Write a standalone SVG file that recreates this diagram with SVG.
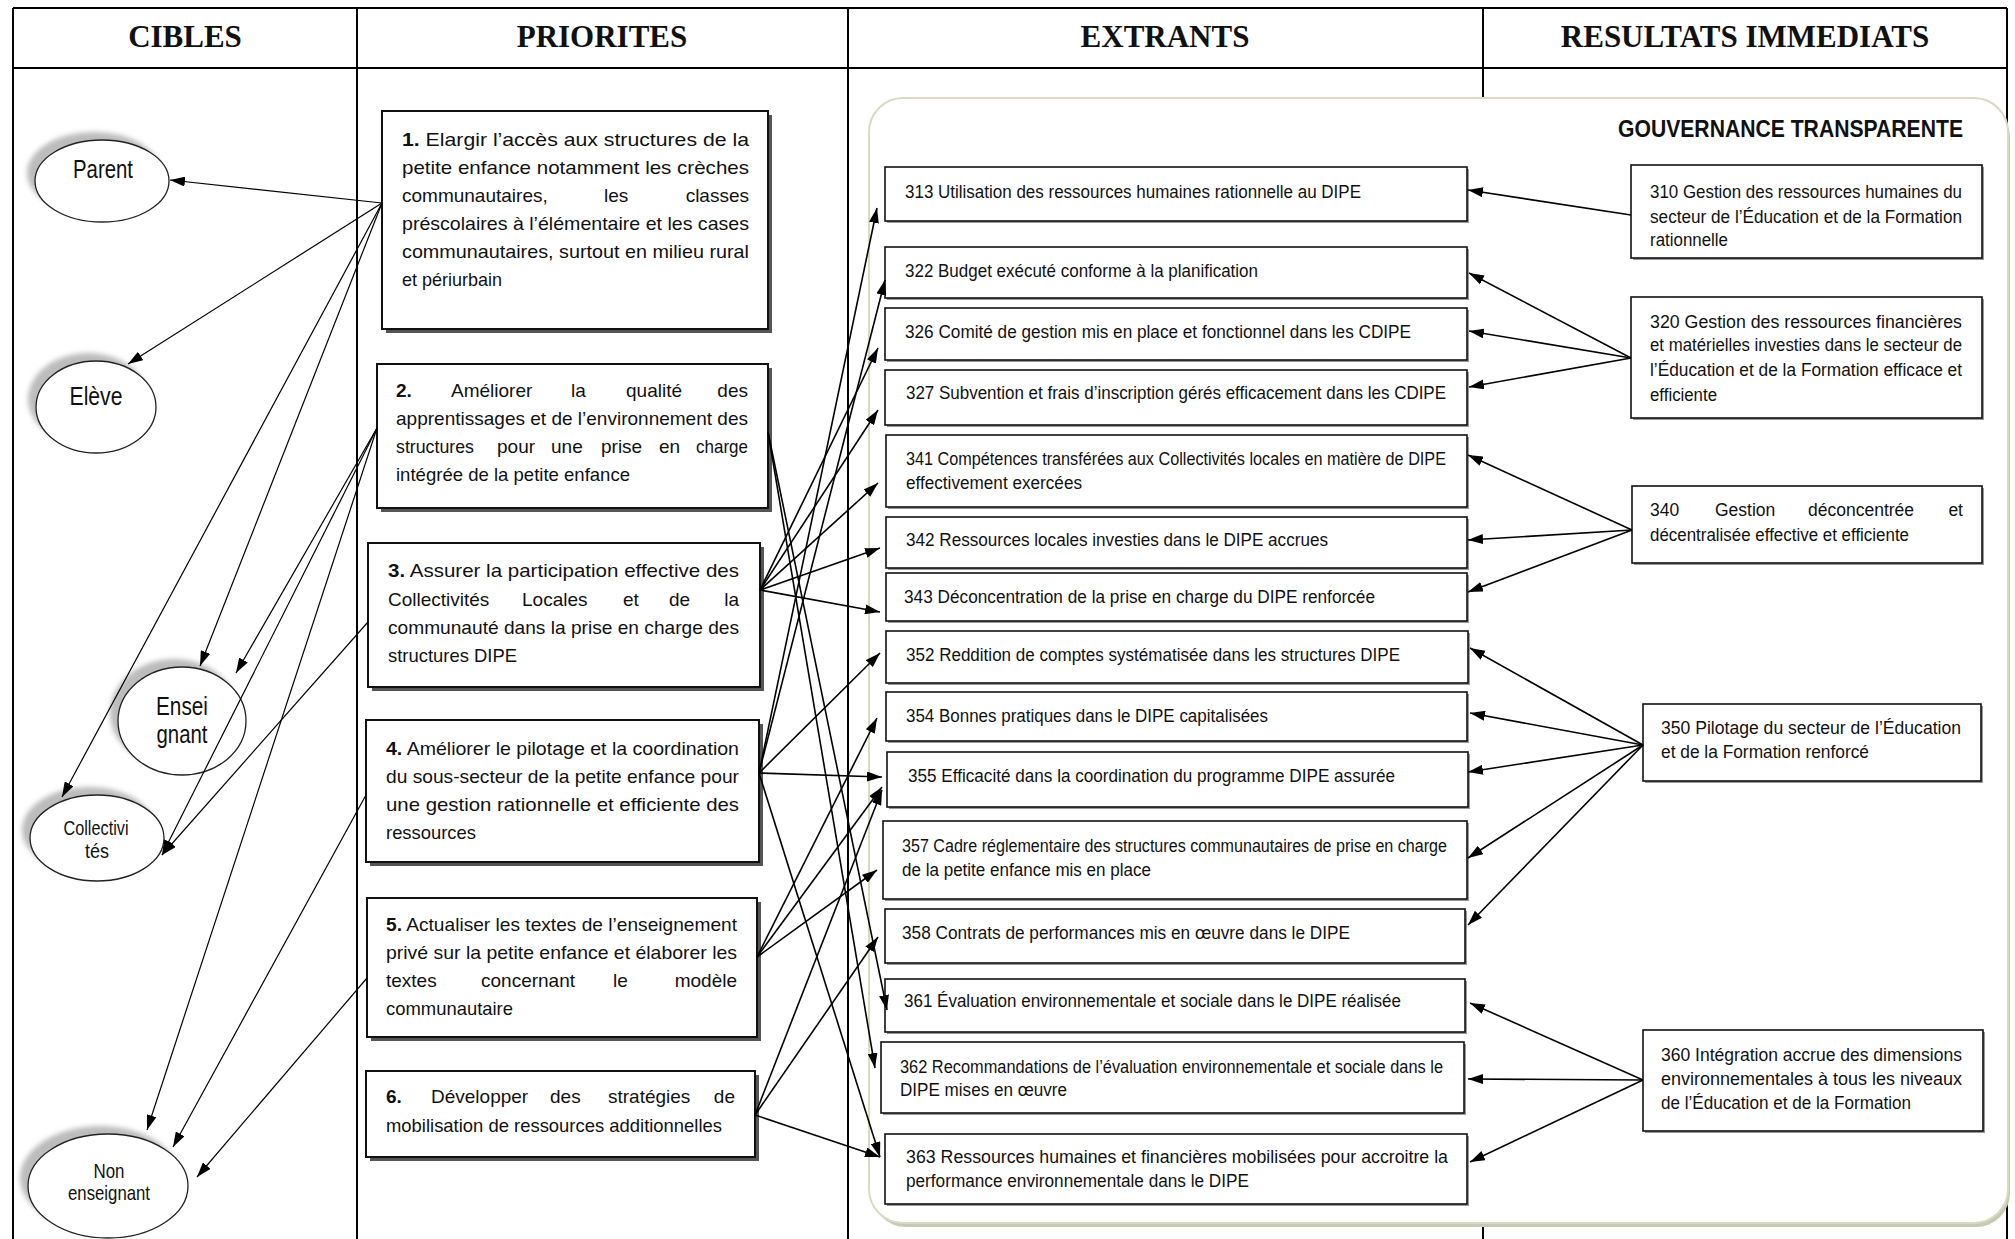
<svg xmlns="http://www.w3.org/2000/svg" width="2015" height="1239" viewBox="0 0 2015 1239">
<defs>
<style>
.hd{font-family:'Liberation Serif','Times New Roman',serif;font-weight:bold;font-size:31px;text-anchor:middle;fill:#111}
.p{font-family:'Liberation Sans',Arial,sans-serif;font-size:19px;fill:#111}
.e{font-family:'Liberation Sans',Arial,sans-serif;font-size:17.5px;fill:#111}
.lb{font-family:'Liberation Sans',Arial,sans-serif;font-size:25px;fill:#111;text-anchor:middle}
.ls{font-family:'Liberation Sans',Arial,sans-serif;font-size:21px;fill:#111;text-anchor:middle}
.end{text-anchor:end}
.tl{fill:none;stroke:#000;stroke-width:2}
.pb{fill:#fff;stroke:#111;stroke-width:2}
.psh{fill:#555}
.eb{fill:#fff;stroke:#111;stroke-width:1.6}
.esh{fill:#999}
.el{fill:#fff;stroke:#222;stroke-width:1.3}
.esd{fill:#bcbcbc;filter:url(#blur)}
.cl{stroke:#000;stroke-width:1.2;fill:none;marker-end:url(#ah)}
.cr{stroke:#000;stroke-width:1.6;fill:none;marker-end:url(#ah)}
</style>
<filter id="blur" x="-20%" y="-20%" width="140%" height="140%"><feGaussianBlur stdDeviation="2.5"/></filter>
<marker id="ah" viewBox="0 0 15 10" refX="15" refY="5" markerWidth="15" markerHeight="10" markerUnits="userSpaceOnUse" orient="auto"><path d="M0,0L15,5L0,10z" fill="#000"/></marker>
</defs>
<rect width="2015" height="1239" fill="#fff"/>
<g id="table">
<line class="tl" x1="13" y1="8" x2="2007" y2="8"/>
<line class="tl" x1="13" y1="68" x2="2007" y2="68" stroke-width="2.5"/>
<line class="tl" x1="13" y1="8" x2="13" y2="1239"/>
<line class="tl" x1="2007" y1="8" x2="2007" y2="1239"/>
<line class="tl" x1="357" y1="8" x2="357" y2="1239"/>
<line class="tl" x1="848" y1="8" x2="848" y2="1239"/>
<line class="tl" x1="1483" y1="8" x2="1483" y2="1239"/>
<text class="hd" x="185" y="47">CIBLES</text>
<text class="hd" x="602" y="47">PRIORITES</text>
<text class="hd" x="1165" y="47">EXTRANTS</text>
<text class="hd" x="1745" y="47">RESULTATS IMMEDIATS</text>
</g>
<g id="gouvernance">
<rect x="872" y="103" width="1138" height="1124" rx="34" fill="#c6cab2"/>
<rect x="869" y="98" width="1139" height="1125" rx="34" fill="#fff" stroke="#dcd9c3" stroke-width="2"/>
<text x="1618" y="137" font-family="'Liberation Sans',Arial,sans-serif" font-weight="bold" font-size="24" textLength="345" lengthAdjust="spacingAndGlyphs" fill="#111">GOUVERNANCE TRANSPARENTE</text>
</g>
<g id="cibles">
<g id="parent"><ellipse class="esd" cx="94" cy="173" rx="67" ry="41"/><ellipse class="el" cx="102" cy="181" rx="67" ry="41"/><text class="lb" x="103" y="178" textLength="60" lengthAdjust="spacingAndGlyphs">Parent</text></g>
<g id="eleve"><ellipse class="esd" cx="88" cy="399" rx="60" ry="46"/><ellipse class="el" cx="96" cy="407" rx="60" ry="46"/><text class="lb" x="96" y="405" textLength="53" lengthAdjust="spacingAndGlyphs">Elève</text></g>
<g id="enseignant"><ellipse class="esd" cx="174" cy="713" rx="64" ry="54"/><ellipse class="el" cx="182" cy="721" rx="64" ry="54"/><text class="lb" x="182" y="715" textLength="52" lengthAdjust="spacingAndGlyphs">Ensei</text><text class="lb" x="182" y="743" textLength="51" lengthAdjust="spacingAndGlyphs">gnant</text></g>
<g id="collectivites"><ellipse class="esd" cx="89" cy="830" rx="67" ry="43"/><ellipse class="el" cx="97" cy="838" rx="67" ry="43"/><text class="ls" x="96" y="835" textLength="65" lengthAdjust="spacingAndGlyphs">Collectivi</text><text class="ls" x="97" y="858" textLength="24" lengthAdjust="spacingAndGlyphs">tés</text></g>
<g id="nonenseignant"><ellipse class="esd" cx="100" cy="1178" rx="80" ry="52"/><ellipse class="el" cx="108" cy="1186" rx="80" ry="52"/><text class="ls" x="109" y="1178" textLength="31" lengthAdjust="spacingAndGlyphs">Non</text><text class="ls" x="109" y="1200" textLength="82" lengthAdjust="spacingAndGlyphs">enseignant</text></g>
</g>
<g id="priorites">
<g id="p1"><rect class="psh" x="386" y="115" width="386" height="218"/><rect class="pb" x="382" y="111" width="386" height="218"/>
<text class="p" x="402" y="146" textLength="347" lengthAdjust="spacingAndGlyphs"><tspan font-weight="bold">1.</tspan>  Elargir l’accès aux structures de la</text>
<text class="p" x="402" y="174" textLength="347" lengthAdjust="spacingAndGlyphs">petite enfance notamment les crèches</text>
<text class="p" x="402" y="202">communautaires,</text><text class="p" x="604" y="202">les</text><text class="p end" x="749" y="202">classes</text>
<text class="p" x="402" y="230" textLength="347" lengthAdjust="spacingAndGlyphs">préscolaires à l’élémentaire et les cases</text>
<text class="p" x="402" y="258" textLength="347" lengthAdjust="spacingAndGlyphs">communautaires, surtout en milieu rural</text>
<text class="p" x="402" y="286" textLength="100" lengthAdjust="spacingAndGlyphs">et périurbain</text></g>
<g id="p2"><rect class="psh" x="381" y="368" width="391" height="144"/><rect class="pb" x="377" y="364" width="391" height="144"/>
<text class="p" x="396" y="397" font-weight="bold">2.</text><text class="p" x="451" y="397">Améliorer</text><text class="p" x="571" y="397">la</text><text class="p" x="626" y="397">qualité</text><text class="p end" x="748" y="397">des</text>
<text class="p" x="396" y="425" textLength="352" lengthAdjust="spacingAndGlyphs">apprentissages et de l’environnement des</text>
<text class="p" x="396" y="453" textLength="78" lengthAdjust="spacingAndGlyphs">structures</text><text class="p" x="497" y="453">pour</text><text class="p" x="551" y="453">une</text><text class="p" x="601" y="453">prise</text><text class="p" x="659" y="453">en</text><text class="p end" x="748" y="453" textLength="52" lengthAdjust="spacingAndGlyphs">charge</text>
<text class="p" x="396" y="481" textLength="234" lengthAdjust="spacingAndGlyphs">intégrée de la petite enfance</text></g>
<g id="p3"><rect class="psh" x="372" y="547" width="392" height="144"/><rect class="pb" x="368" y="543" width="392" height="144"/>
<text class="p" x="388" y="577" textLength="351" lengthAdjust="spacingAndGlyphs"><tspan font-weight="bold">3.</tspan> Assurer la participation effective des</text>
<text class="p" x="388" y="606">Collectivités</text><text class="p" x="522" y="606">Locales</text><text class="p" x="623" y="606">et</text><text class="p" x="669" y="606">de</text><text class="p end" x="739" y="606">la</text>
<text class="p" x="388" y="634" textLength="351" lengthAdjust="spacingAndGlyphs">communauté dans la prise en charge des</text>
<text class="p" x="388" y="662" textLength="129" lengthAdjust="spacingAndGlyphs">structures DIPE</text></g>
<g id="p4"><rect class="psh" x="370" y="724" width="393" height="142"/><rect class="pb" x="366" y="720" width="393" height="142"/>
<text class="p" x="386" y="755" textLength="353" lengthAdjust="spacingAndGlyphs"><tspan font-weight="bold">4.</tspan> Améliorer le pilotage et la coordination</text>
<text class="p" x="386" y="783" textLength="353" lengthAdjust="spacingAndGlyphs">du sous-secteur de la petite enfance pour</text>
<text class="p" x="386" y="811" textLength="353" lengthAdjust="spacingAndGlyphs">une gestion rationnelle et efficiente des</text>
<text class="p" x="386" y="839" textLength="90" lengthAdjust="spacingAndGlyphs">ressources</text></g>
<g id="p5"><rect class="psh" x="371" y="902" width="390" height="139"/><rect class="pb" x="367" y="898" width="390" height="139"/>
<text class="p" x="386" y="931" textLength="351" lengthAdjust="spacingAndGlyphs"><tspan font-weight="bold">5.</tspan> Actualiser les textes de l’enseignement</text>
<text class="p" x="386" y="959" textLength="351" lengthAdjust="spacingAndGlyphs">privé sur la petite enfance et élaborer les</text>
<text class="p" x="386" y="987">textes</text><text class="p" x="481" y="987">concernant</text><text class="p" x="613" y="987">le</text><text class="p end" x="737" y="987">modèle</text>
<text class="p" x="386" y="1015" textLength="127" lengthAdjust="spacingAndGlyphs">communautaire</text></g>
<g id="p6"><rect class="psh" x="370" y="1075" width="389" height="86"/><rect class="pb" x="366" y="1071" width="389" height="86"/>
<text class="p" x="386" y="1103" font-weight="bold">6.</text><text class="p" x="431" y="1103">Développer</text><text class="p" x="550" y="1103">des</text><text class="p" x="608" y="1103">stratégies</text><text class="p end" x="735" y="1103">de</text>
<text class="p" x="386" y="1132" textLength="336" lengthAdjust="spacingAndGlyphs">mobilisation de ressources additionnelles</text></g>
</g>
<g id="extrants">
<g id="x313"><rect class="esh" x="887" y="169" width="582" height="54"/><rect class="eb" x="885" y="167" width="582" height="54"/><text class="e" x="905" y="198" textLength="456" lengthAdjust="spacingAndGlyphs">313 Utilisation des ressources humaines rationnelle au DIPE</text></g>
<g id="x322"><rect class="esh" x="887" y="249" width="582" height="51"/><rect class="eb" x="885" y="247" width="582" height="51"/><text class="e" x="905" y="277" textLength="353" lengthAdjust="spacingAndGlyphs">322 Budget exécuté conforme à la planification</text></g>
<g id="x326"><rect class="esh" x="887" y="310" width="582" height="52"/><rect class="eb" x="885" y="308" width="582" height="52"/><text class="e" x="905" y="338" textLength="506" lengthAdjust="spacingAndGlyphs">326 Comité de gestion mis en place et fonctionnel dans les  CDIPE</text></g>
<g id="x327"><rect class="esh" x="887" y="372" width="582" height="55"/><rect class="eb" x="885" y="370" width="582" height="55"/><text class="e" x="906" y="399" textLength="540" lengthAdjust="spacingAndGlyphs">327 Subvention et frais d’inscription gérés efficacement dans les  CDIPE</text></g>
<g id="x341"><rect class="esh" x="888" y="437" width="581" height="72"/><rect class="eb" x="886" y="435" width="581" height="72"/><text class="e" x="906" y="465" textLength="540" lengthAdjust="spacingAndGlyphs">341 Compétences transférées aux Collectivités locales en matière de DIPE</text><text class="e" x="906" y="489" textLength="176" lengthAdjust="spacingAndGlyphs">effectivement exercées</text></g>
<g id="x342"><rect class="esh" x="888" y="519" width="581" height="51"/><rect class="eb" x="886" y="517" width="581" height="51"/><text class="e" x="906" y="546" textLength="422" lengthAdjust="spacingAndGlyphs">342 Ressources locales investies dans  le DIPE accrues</text></g>
<g id="x343"><rect class="esh" x="888" y="575" width="581" height="48"/><rect class="eb" x="886" y="573" width="581" height="48"/><text class="e" x="904" y="603" textLength="471" lengthAdjust="spacingAndGlyphs">343 Déconcentration de la prise en charge du DIPE renforcée</text></g>
<g id="x352"><rect class="esh" x="888" y="633" width="582" height="52"/><rect class="eb" x="886" y="631" width="582" height="52"/><text class="e" x="906" y="661" textLength="494" lengthAdjust="spacingAndGlyphs">352 Reddition de comptes systématisée dans les structures DIPE</text></g>
<g id="x354"><rect class="esh" x="888" y="694" width="581" height="49"/><rect class="eb" x="886" y="692" width="581" height="49"/><text class="e" x="906" y="722" textLength="362" lengthAdjust="spacingAndGlyphs">354 Bonnes pratiques dans le DIPE capitalisées</text></g>
<g id="x355"><rect class="esh" x="889" y="754" width="581" height="55"/><rect class="eb" x="887" y="752" width="581" height="55"/><text class="e" x="908" y="782" textLength="487" lengthAdjust="spacingAndGlyphs">355 Efficacité dans la coordination du programme DIPE assurée</text></g>
<g id="x357"><rect class="esh" x="885" y="823" width="584" height="78"/><rect class="eb" x="883" y="821" width="584" height="78"/><text class="e" x="902" y="852" textLength="545" lengthAdjust="spacingAndGlyphs">357 Cadre réglementaire des structures communautaires de prise en charge</text><text class="e" x="902" y="876" textLength="249" lengthAdjust="spacingAndGlyphs">de la petite enfance mis en place</text></g>
<g id="x358"><rect class="esh" x="887" y="911" width="580" height="54"/><rect class="eb" x="885" y="909" width="580" height="54"/><text class="e" x="902" y="939" textLength="448" lengthAdjust="spacingAndGlyphs">358 Contrats de performances mis en œuvre dans le DIPE</text></g>
<g id="x361"><rect class="esh" x="887" y="981" width="580" height="53"/><rect class="eb" x="885" y="979" width="580" height="53"/><text class="e" x="904" y="1007" textLength="497" lengthAdjust="spacingAndGlyphs">361 Évaluation environnementale et sociale dans le DIPE réalisée</text></g>
<g id="x362"><rect class="esh" x="883" y="1044" width="583" height="71"/><rect class="eb" x="881" y="1042" width="583" height="71"/><text class="e" x="900" y="1073" textLength="543" lengthAdjust="spacingAndGlyphs">362 Recommandations de l’évaluation environnementale et sociale dans le</text><text class="e" x="900" y="1096" textLength="167" lengthAdjust="spacingAndGlyphs">DIPE mises en œuvre</text></g>
<g id="x363"><rect class="esh" x="887" y="1136" width="582" height="70"/><rect class="eb" x="885" y="1134" width="582" height="70"/><text class="e" x="906" y="1163" textLength="542" lengthAdjust="spacingAndGlyphs">363 Ressources humaines et financières mobilisées pour accroitre la</text><text class="e" x="906" y="1187" textLength="343" lengthAdjust="spacingAndGlyphs">performance environnementale dans le DIPE</text></g>
</g>
<g id="resultats">
<g id="r310"><rect class="esh" x="1633" y="167" width="351" height="93"/><rect class="eb" x="1631" y="165" width="351" height="93"/><text class="e" x="1650" y="198" textLength="312" lengthAdjust="spacingAndGlyphs">310 Gestion des ressources humaines du</text><text class="e" x="1650" y="223" textLength="312" lengthAdjust="spacingAndGlyphs">secteur de l’Éducation et de la Formation</text><text class="e" x="1650" y="246" textLength="78" lengthAdjust="spacingAndGlyphs">rationnelle</text></g>
<g id="r320"><rect class="esh" x="1633" y="299" width="351" height="121"/><rect class="eb" x="1631" y="297" width="351" height="121"/><text class="e" x="1650" y="328" textLength="312" lengthAdjust="spacingAndGlyphs">320  Gestion  des  ressources  financières</text><text class="e" x="1650" y="351" textLength="312" lengthAdjust="spacingAndGlyphs">et matérielles investies dans le secteur de</text><text class="e" x="1650" y="376" textLength="312" lengthAdjust="spacingAndGlyphs">l’Éducation et de la Formation efficace et</text><text class="e" x="1650" y="401" textLength="67" lengthAdjust="spacingAndGlyphs">efficiente</text></g>
<g id="r340"><rect class="esh" x="1634" y="488" width="350" height="77"/><rect class="eb" x="1632" y="486" width="350" height="77"/><text class="e" x="1650" y="516">340</text><text class="e" x="1715" y="516">Gestion</text><text class="e" x="1808" y="516">déconcentrée</text><text class="e end" x="1963" y="516">et</text><text class="e" x="1650" y="541" textLength="259" lengthAdjust="spacingAndGlyphs">décentralisée effective et efficiente</text></g>
<g id="r350"><rect class="esh" x="1645" y="706" width="338" height="77"/><rect class="eb" x="1643" y="704" width="338" height="77"/><text class="e" x="1661" y="734" textLength="300" lengthAdjust="spacingAndGlyphs">350  Pilotage du secteur de l’Éducation</text><text class="e" x="1661" y="758" textLength="208" lengthAdjust="spacingAndGlyphs">et de la Formation renforcé</text></g>
<g id="r360"><rect class="esh" x="1645" y="1032" width="340" height="101"/><rect class="eb" x="1643" y="1030" width="340" height="101"/><text class="e" x="1661" y="1061" textLength="301" lengthAdjust="spacingAndGlyphs">360  Intégration accrue des dimensions</text><text class="e" x="1661" y="1085" textLength="301" lengthAdjust="spacingAndGlyphs">environnementales à tous les niveaux</text><text class="e" x="1661" y="1109" textLength="250" lengthAdjust="spacingAndGlyphs">de l’Éducation et de la Formation</text></g>
</g>
<g id="connectors">
<line class="cl" x1="382" y1="203" x2="170" y2="180"/>
<line class="cl" x1="382" y1="203" x2="128" y2="364"/>
<line class="cl" x1="382" y1="203" x2="62" y2="797"/>
<line class="cl" x1="382" y1="203" x2="200" y2="666"/>
<line class="cl" x1="377" y1="428" x2="236" y2="673"/>
<line class="cl" x1="377" y1="428" x2="162" y2="855"/>
<line class="cl" x1="377" y1="428" x2="147" y2="1130"/>
<line class="cl" x1="368" y1="622" x2="162" y2="855"/>
<line class="cl" x1="366" y1="795" x2="173" y2="1147"/>
<line class="cl" x1="367" y1="978" x2="197" y2="1177"/>
<line class="cr" x1="768" y1="432" x2="887" y2="1010"/>
<line class="cr" x1="768" y1="432" x2="875" y2="1068"/>
<line class="cr" x1="760" y1="590" x2="878" y2="348"/>
<line class="cr" x1="760" y1="590" x2="878" y2="410"/>
<line class="cr" x1="760" y1="590" x2="878" y2="483"/>
<line class="cr" x1="760" y1="590" x2="880" y2="548"/>
<line class="cr" x1="760" y1="590" x2="880" y2="612"/>
<line class="cr" x1="759" y1="773" x2="877" y2="208"/>
<line class="cr" x1="759" y1="773" x2="885" y2="280"/>
<line class="cr" x1="759" y1="773" x2="880" y2="653"/>
<line class="cr" x1="759" y1="773" x2="882" y2="777"/>
<line class="cr" x1="759" y1="773" x2="880" y2="1157"/>
<line class="cr" x1="757" y1="957" x2="877" y2="718"/>
<line class="cr" x1="757" y1="957" x2="882" y2="787"/>
<line class="cr" x1="757" y1="957" x2="877" y2="870"/>
<line class="cr" x1="755" y1="1115" x2="882" y2="790"/>
<line class="cr" x1="755" y1="1115" x2="878" y2="937"/>
<line class="cr" x1="755" y1="1115" x2="880" y2="1157"/>
<line class="cr" x1="1631" y1="215" x2="1468" y2="190"/>
<line class="cr" x1="1631" y1="358" x2="1469" y2="273"/>
<line class="cr" x1="1631" y1="358" x2="1469" y2="331"/>
<line class="cr" x1="1631" y1="358" x2="1469" y2="387"/>
<line class="cr" x1="1632" y1="530" x2="1468" y2="455"/>
<line class="cr" x1="1632" y1="530" x2="1468" y2="540"/>
<line class="cr" x1="1632" y1="530" x2="1468" y2="592"/>
<line class="cr" x1="1643" y1="745" x2="1470" y2="648"/>
<line class="cr" x1="1643" y1="745" x2="1470" y2="713"/>
<line class="cr" x1="1643" y1="745" x2="1468" y2="772"/>
<line class="cr" x1="1643" y1="745" x2="1468" y2="858"/>
<line class="cr" x1="1643" y1="745" x2="1468" y2="925"/>
<line class="cr" x1="1643" y1="1080" x2="1470" y2="1003"/>
<line class="cr" x1="1643" y1="1080" x2="1468" y2="1079"/>
<line class="cr" x1="1643" y1="1080" x2="1470" y2="1162"/>
</g>
</svg>
